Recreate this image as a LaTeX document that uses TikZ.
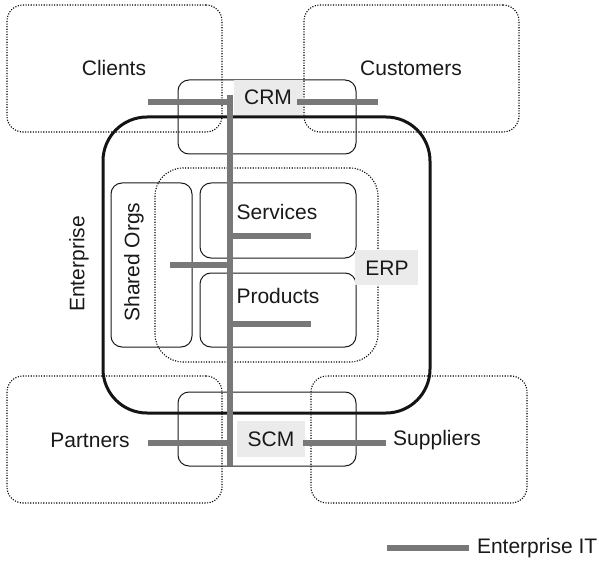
\documentclass[tikz,border=0pt]{standalone}
\usepackage{fontspec}
\setmainfont{Liberation Sans}
\begin{document}
\begin{tikzpicture}[x=1pt,y=-1pt,
  every node/.style={font=\fontsize{21pt}{25pt}\selectfont, text=black!90, inner sep=0pt, outer sep=0pt},
  dotbox/.style={draw=black, line width=1.1pt, dash pattern=on 1.1pt off 1.5pt, rounded corners=16pt, rectangle},
  thinbox/.style={draw=black!90, line width=1pt, rounded corners=11pt, rectangle},
  entbox/.style={draw=black!92, line width=3pt, rounded corners=44pt, rectangle},
  erpbox/.style={draw=black, line width=1.1pt, dash pattern=on 1.1pt off 1.5pt, rounded corners=28pt, rectangle},
  labfill/.style={fill=black!8, rectangle},
  itbar/.style={draw=black!53, line width=6pt, line cap=butt}
]
\useasboundingbox (0,0) rectangle (599,561);
% outer dotted boxes
\node[dotbox, minimum width=215pt, minimum height=127pt] (clientsbox) at (114.5,68.5) {};
\node[dotbox, minimum width=215pt, minimum height=127pt] (customersbox) at (411.5,68.5) {};
\node[dotbox, minimum width=215pt, minimum height=127pt] (partnersbox) at (114.5,439.5) {};
\node[dotbox, minimum width=216pt, minimum height=127pt] (suppliersbox) at (419,439.5) {};
% enterprise
\node[entbox, minimum width=327pt, minimum height=296pt] (entbox) at (266.5,265) {};
% CRM / SCM boxes
\node[thinbox, minimum width=178pt, minimum height=74pt] (crmbox) at (267,117) {};
\node[thinbox, minimum width=178pt, minimum height=74pt] (scmbox) at (267,429) {};
% ERP region and inner boxes
\node[erpbox, minimum width=223pt, minimum height=194pt] (erpbox) at (266.5,265) {};
\node[thinbox, minimum width=81pt, minimum height=164pt] (sharedbox) at (151.5,265) {};
\node[thinbox, minimum width=156pt, minimum height=75pt] (servicesbox) at (278,220.5) {};
\node[thinbox, minimum width=156pt, minimum height=74pt] (productsbox) at (278,310) {};
% label fills
\node[labfill, minimum width=69pt, minimum height=35pt] (crmfill) at (268.5,97.5) {};
\node[labfill, minimum width=68pt, minimum height=36pt] (scmfill) at (271,439) {};
\node[labfill, minimum width=63pt, minimum height=35pt] (erpfill) at (386.5,267.5) {};
% enterprise IT bars
\coordinate (spineTop) at (230,95);
\coordinate (spineBot) at (230,466);
\coordinate (crmL) at (148,102);
\coordinate (crmLj) at (230,102);
\coordinate (crmRa) at (297,102);
\coordinate (crmRb) at (378,102);
\coordinate (shL) at (170,265);
\coordinate (shJ) at (230,265);
\coordinate (svJ) at (230,236);
\coordinate (svE) at (311,236);
\coordinate (prJ) at (230,324);
\coordinate (prE) at (311,324);
\coordinate (paL) at (148,443);
\coordinate (paJ) at (230,443);
\coordinate (suA) at (303,443);
\coordinate (suB) at (386,443);
\coordinate (legA) at (387,548);
\coordinate (legB) at (469,548);
\draw[itbar] (spineTop) -- (spineBot);
\draw[itbar] (crmL) -- (crmLj);
\draw[itbar] (crmRa) -- (crmRb);
\draw[itbar] (shL) -- (shJ);
\draw[itbar] (svJ) -- (svE);
\draw[itbar] (prJ) -- (prE);
\draw[itbar] (paL) -- (paJ);
\draw[itbar] (suA) -- (suB);
\draw[itbar] (legA) -- (legB);
% texts
\node (clients) at (114,68) {Clients};
\node (customers) at (411,68) {Customers};
\node (partners) at (90,440) {Partners};
\node (suppliers) at (437,440) {Suppliers};
\node (crm) at (268,97.5) {CRM};
\node (scm) at (271,439) {SCM};
\node (erp) at (387,268) {ERP};
\node (services) at (277,212) {Services};
\node (products) at (278,296) {Products};
\node[rotate=90] (shared) at (134,262) {Shared Orgs};
\node[rotate=90] (enterprise) at (79,264) {Enterprise};
\node[anchor=west] (legend) at (477,548) {Enterprise IT};
\end{tikzpicture}
\end{document}
